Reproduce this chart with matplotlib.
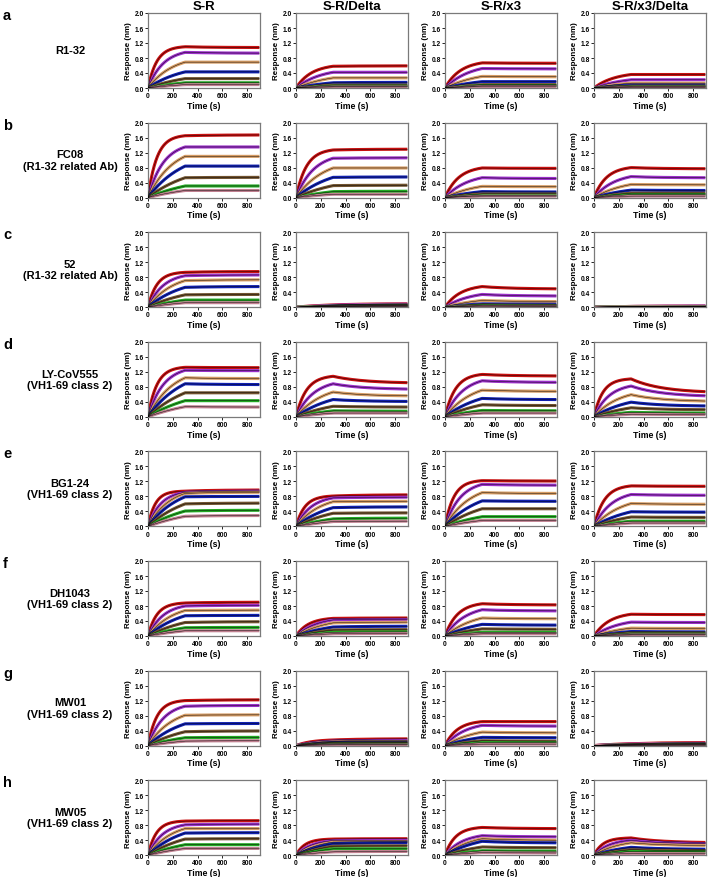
"""Grid of BLI sensorgrams: 8 antibodies x 4 spike variants."""

import matplotlib
matplotlib.use("Agg")
import matplotlib.pyplot as plt
import numpy as np

plt.rcParams.update({
    "font.family": ["Liberation Sans", "DejaVu Sans"],
    "font.weight": "bold",
    "axes.labelweight": "bold",
})

VARIANTS = ["S-R", "S-R/Delta", "S-R/x3", "S-R/x3/Delta"]
ROW_LETTERS = ["a", "b", "c", "d", "e", "f", "g", "h"]
ANTIBODIES = ["R1-32", "FC08\n(R1-32 related Ab)", "52\n(R1-32 related Ab)",
              "LY-CoV555\n(VH1-69 class 2)", "BG1-24\n(VH1-69 class 2)",
              "DH1043\n(VH1-69 class 2)", "MW01\n(VH1-69 class 2)",
              "MW05\n(VH1-69 class 2)"]

# one colour per analyte concentration, highest first
CURVE_COLORS = ["#c81010", "#9a2ec8", "#d49a62", "#1020b0",
                "#70522e", "#22a822", "#c08090"]

# response (nm) at the end of association (300 s), per variant column
PEAK_R1_32 = [[1.10, 0.95, 0.69, 0.43, 0.25, 0.14, 0.09],
              [0.58, 0.42, 0.27, 0.14, 0.08, 0.05, 0.03],
              [0.67, 0.52, 0.31, 0.17, 0.09, 0.06, 0.04],
              [0.36, 0.22, 0.13, 0.08, 0.05, 0.03, 0.02]]
PEAK_FC08 = [[1.65, 1.35, 1.10, 0.84, 0.53, 0.31, 0.19],
             [1.27, 1.05, 0.79, 0.54, 0.32, 0.16, 0.09],
             [0.79, 0.53, 0.30, 0.16, 0.10, 0.06, 0.04],
             [0.80, 0.56, 0.35, 0.20, 0.12, 0.08, 0.04]]
PEAK_52 = [[0.93, 0.84, 0.71, 0.53, 0.33, 0.19, 0.12],
           [0.06, 0.05, 0.04, 0.03, 0.02, 0.02, 0.01],
           [0.55, 0.34, 0.18, 0.09, 0.06, 0.04, 0.02],
           [0.02, 0.02, 0.02, 0.01, 0.01, 0.01, 0.01]]
PEAK_LY = [[1.32, 1.24, 1.04, 0.88, 0.64, 0.43, 0.27],
           [1.08, 0.88, 0.66, 0.46, 0.28, 0.16, 0.10],
           [1.13, 0.96, 0.71, 0.49, 0.32, 0.17, 0.10],
           [1.01, 0.82, 0.59, 0.39, 0.24, 0.12, 0.07]]
PEAK_BG1 = [[0.94, 0.91, 0.88, 0.79, 0.60, 0.41, 0.27],
            [0.81, 0.76, 0.66, 0.50, 0.35, 0.20, 0.13],
            [1.22, 1.12, 0.90, 0.68, 0.47, 0.26, 0.16],
            [1.08, 0.85, 0.61, 0.39, 0.25, 0.14, 0.09]]
PEAK_DH = [[0.88, 0.80, 0.68, 0.54, 0.36, 0.22, 0.14],
           [0.47, 0.43, 0.35, 0.24, 0.16, 0.10, 0.06],
           [0.86, 0.70, 0.48, 0.31, 0.19, 0.10, 0.06],
           [0.58, 0.37, 0.21, 0.12, 0.08, 0.05, 0.03]]
PEAK_MW01 = [[1.20, 1.05, 0.81, 0.58, 0.37, 0.21, 0.12],
             [0.15, 0.12, 0.10, 0.08, 0.06, 0.04, 0.02],
             [0.64, 0.54, 0.36, 0.22, 0.13, 0.08, 0.04],
             [0.05, 0.04, 0.03, 0.02, 0.02, 0.01, 0.01]]
PEAK_MW05 = [[0.91, 0.81, 0.71, 0.59, 0.43, 0.28, 0.18],
             [0.43, 0.39, 0.35, 0.31, 0.24, 0.17, 0.09],
             [0.74, 0.52, 0.44, 0.37, 0.22, 0.12, 0.07],
             [0.46, 0.40, 0.33, 0.21, 0.15, 0.10, 0.05]]

# response (nm) at the end of dissociation (900 s)
END_R1_32 = [[1.08, 0.93, 0.69, 0.43, 0.25, 0.14, 0.09],
             [0.59, 0.42, 0.27, 0.15, 0.08, 0.05, 0.03],
             [0.66, 0.51, 0.30, 0.17, 0.09, 0.06, 0.04],
             [0.36, 0.22, 0.13, 0.08, 0.05, 0.03, 0.02]]
END_FC08 = [[1.67, 1.35, 1.10, 0.84, 0.54, 0.31, 0.19],
            [1.29, 1.06, 0.79, 0.55, 0.33, 0.17, 0.09],
            [0.78, 0.51, 0.29, 0.15, 0.10, 0.06, 0.04],
            [0.77, 0.53, 0.34, 0.19, 0.12, 0.08, 0.04]]
END_52 = [[0.95, 0.86, 0.73, 0.55, 0.34, 0.19, 0.12],
          [0.09, 0.08, 0.06, 0.05, 0.04, 0.03, 0.02],
          [0.49, 0.30, 0.15, 0.08, 0.05, 0.03, 0.02],
          [0.03, 0.03, 0.02, 0.02, 0.01, 0.01, 0.01]]
END_LY = [[1.31, 1.23, 1.02, 0.86, 0.64, 0.43, 0.26],
          [0.91, 0.74, 0.56, 0.41, 0.26, 0.15, 0.10],
          [1.09, 0.92, 0.68, 0.46, 0.30, 0.16, 0.10],
          [0.67, 0.56, 0.42, 0.29, 0.19, 0.10, 0.06]]
END_BG1 = [[0.97, 0.94, 0.91, 0.80, 0.62, 0.43, 0.29],
           [0.84, 0.78, 0.67, 0.52, 0.36, 0.22, 0.14],
           [1.21, 1.10, 0.88, 0.67, 0.47, 0.26, 0.16],
           [1.07, 0.83, 0.59, 0.38, 0.24, 0.14, 0.09]]
END_DH = [[0.90, 0.82, 0.69, 0.55, 0.38, 0.23, 0.14],
          [0.48, 0.44, 0.37, 0.26, 0.17, 0.11, 0.07],
          [0.83, 0.67, 0.46, 0.29, 0.18, 0.10, 0.06],
          [0.57, 0.36, 0.20, 0.11, 0.08, 0.05, 0.03]]
END_MW01 = [[1.22, 1.07, 0.82, 0.59, 0.39, 0.22, 0.13],
            [0.18, 0.14, 0.11, 0.09, 0.07, 0.04, 0.02],
            [0.64, 0.52, 0.34, 0.21, 0.12, 0.08, 0.04],
            [0.08, 0.06, 0.05, 0.04, 0.03, 0.02, 0.01]]
END_MW05 = [[0.92, 0.83, 0.71, 0.60, 0.44, 0.28, 0.18],
            [0.44, 0.40, 0.36, 0.33, 0.25, 0.17, 0.10],
            [0.71, 0.49, 0.40, 0.33, 0.20, 0.11, 0.06],
            [0.34, 0.31, 0.26, 0.16, 0.12, 0.09, 0.04]]

# observed association rate (1/s) of the top concentration, per panel
KOBS = [[0.012, 0.006, 0.006, 0.004],
        [0.012, 0.010, 0.007, 0.008],
        [0.012, 0.002, 0.006, 0.002],
        [0.012, 0.010, 0.010, 0.012],
        [0.015, 0.012, 0.012, 0.010],
        [0.012, 0.008, 0.008, 0.006],
        [0.012, 0.006, 0.008, 0.002],
        [0.013, 0.012, 0.010, 0.012]]

PEAKS = [PEAK_R1_32, PEAK_FC08, PEAK_52, PEAK_LY, PEAK_BG1, PEAK_DH, PEAK_MW01, PEAK_MW05]
ENDS = [END_R1_32, END_FC08, END_52, END_LY, END_BG1, END_DH, END_MW01, END_MW05]

T_ASSOC = 300.0
T_END = 900.0
K_DISS = 0.004


def sensorgram(peak, end, kobs):
    """1:1 binding fit shape: association to `peak`, then relax toward `end`."""
    t1 = np.linspace(0, T_ASSOC, 120)
    r1 = peak * (1 - np.exp(-kobs * t1)) / (1 - np.exp(-kobs * T_ASSOC))
    t2 = np.linspace(T_ASSOC, T_END, 200)
    frac = (1 - np.exp(-K_DISS * (t2 - T_ASSOC))) / (1 - np.exp(-K_DISS * (T_END - T_ASSOC)))
    r2 = peak + (end - peak) * frac
    return np.concatenate([t1, t2]), np.concatenate([r1, r2])


W, H = 708, 878
fig = plt.figure(figsize=(W / 100, H / 100), dpi=100)

col_left = [148, 296, 445, 594]
ax_w, ax_h = 112, 75
row_top0, row_pitch = 14, 109.6

for r in range(8):
    top = row_top0 + r * row_pitch
    for c in range(4):
        ax = fig.add_axes([col_left[c] / W, 1 - (top + ax_h) / H, ax_w / W, ax_h / H])
        peaks, ends = PEAKS[r][c], ENDS[r][c]
        for i, color in enumerate(CURVE_COLORS):
            k = KOBS[r][c] * 0.5 ** i + 0.002
            t, y = sensorgram(peaks[i], ends[i], k)
            ax.plot(t, y, color=color, lw=2.2, solid_capstyle="butt", zorder=2)
            ax.plot(t, y, color="black", lw=0.3, zorder=3)
        ax.set_xlim(0, 905)
        ax.set_ylim(0, 2.0)
        ax.set_xticks([0, 200, 400, 600, 800])
        ax.set_yticks([0.0, 0.4, 0.8, 1.2, 1.6, 2.0])
        ax.set_yticklabels([f"{v:.1f}" for v in [0.0, 0.4, 0.8, 1.2, 1.6, 2.0]])
        ax.tick_params(labelsize=4.8, length=2, width=0.6, pad=1.0, colors="black")
        for lab in ax.get_xticklabels() + ax.get_yticklabels():
            lab.set_fontweight("bold")
        for sp in ax.spines.values():
            sp.set_color("#7a7a7a")
            sp.set_linewidth(0.9)
        ax.set_xlabel("Time (s)", fontsize=6.3, labelpad=1.2)
        ax.set_ylabel("Response (nm)", fontsize=5.8, labelpad=2)
        if r == 0:
            ax.set_title(VARIANTS[c], fontsize=9.5, fontweight="bold", pad=3)

    fig.text(3 / W, 1 - (top + 2) / H, ROW_LETTERS[r], fontsize=10.5,
             fontweight="bold", ha="left", va="center")
    fig.text(70 / W, 1 - (top + ax_h / 2) / H, ANTIBODIES[r], fontsize=8,
             fontweight="bold", ha="center", va="center", linespacing=1.15)

fig.savefig("out.png", dpi=100)
